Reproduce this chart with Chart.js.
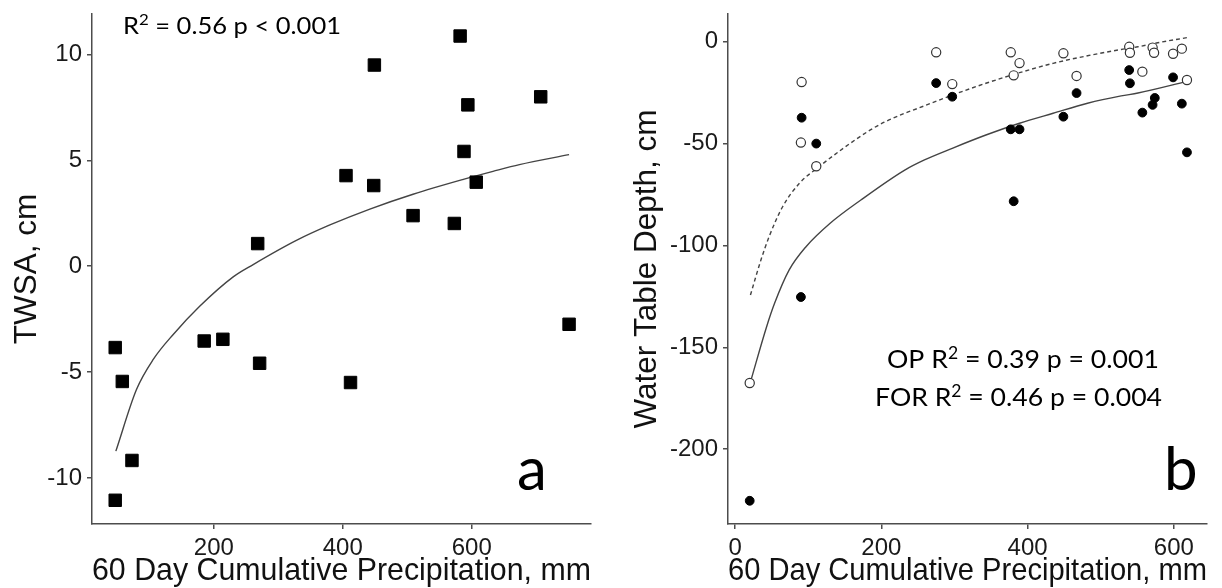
<!DOCTYPE html>
<html>
<head>
<meta charset="utf-8">
<script src="https://cdn.jsdelivr.net/npm/chart.js@4.4.1/dist/chart.umd.min.js"></script>
<style>
  html, body { margin: 0; padding: 0; background: #fff; }
  #wrap { position: relative; width: 1222px; height: 588px; }
  canvas { position: absolute; top: 0; }
  #chartA { left: 0; }
  #chartB { left: 611px; }
</style>
</head>
<body>
<div id="wrap">
  <canvas id="chartA" width="611" height="588"></canvas>
  <canvas id="chartB" width="611" height="588"></canvas>
</div>
<script>
// Panel a: TWSA against 60 day precipitation
const precipA = [582, 449, 707, 594, 588, 405, 448, 607, 509, 573, 268, 751, 47, 185, 214, 271, 58, 412, 73, 47];
const twsa = [10.87, 9.5, 8.0, 7.62, 5.42, 4.28, 3.81, 3.97, 2.39, 2.02, 1.07, -2.74, -3.84, -3.53, -3.45, -4.58, -5.44, -5.49, -9.17, -11.05];
// log fit
const fitAPrecip = [48, 80, 106, 137, 178, 230, 261, 328, 380, 442, 509, 587, 633, 674, 751];
const fitATwsa = [-8.73, -5.82, -4.40, -3.22, -1.89, -0.50, 0.08, 1.22, 1.95, 2.70, 3.40, 4.10, 4.48, 4.80, 5.27];

// Panel b: water table depth, filled = OP, open = FOR
const opPrecip = [20, 90, 91, 111, 275, 297, 377, 389, 381, 449, 467, 539, 540, 557, 571, 574, 599, 611, 618];
const opDepth = [-225.3, -125.3, -37.3, -50.0, -20.3, -27, -43, -43, -78.3, -36.8, -25.2, -13.9, -20.4, -34.8, -31, -27.6, -17.5, -30.4, -54.3];
const forPrecip = [20, 91, 90, 111, 275, 297, 377, 389, 381, 449, 467, 539, 540, 557, 571, 573, 599, 611, 618];
const forDepth = [-167.5, -19.8, -49.5, -61.1, -5.2, -20.8, -5.2, -10.5, -16.5, -5.7, -16.8, -2.5, -5.4, -14.7, -2.9, -5.4, -5.9, -3.4, -18.8];
const fitOpPrecip = [21, 43, 54, 74, 97, 130, 172, 232, 259, 297, 343, 389, 435, 482, 528, 551, 618];
const fitOpDepth = [-167, -140, -128.4, -112, -100.6, -89.1, -77.7, -63, -58, -52.3, -45.8, -40, -35.1, -30.2, -26.6, -25.2, -19.5];
const fitForPrecip = [21, 35, 46.5, 65, 88, 115, 148, 185, 204, 232, 250, 297, 343, 389, 435, 482, 528, 551, 578, 618];
const fitForDepth = [-124.3, -107.5, -95.7, -81, -69.5, -61.3, -52.3, -43.3, -39.5, -35.1, -32.7, -26.2, -20.4, -15.2, -10.6, -6.9, -3.8, -2.5, -0.5, 2.0];

// tick labels
const xTicksA = [200, 400, 600];
const yTicksA = [-10, -5, 0, 5, 10];
const xTicksB = [0, 200, 400, 600];
const yTicksB = [-200, -150, -100, -50, 0];

const FONT = 'Arial, "Liberation Sans", sans-serif';
const NOTE_FONT = 'Lato, "Open Sans", sans-serif';
const AXIS_GREY = '#4d4d4d';

function toPoints(xs, ys) {
  return xs.map((x, i) => ({ x: x, y: ys[i] }));
}

function makeScale(min, max, tickValues, titleText, titleSize, titlePadding, boxSize) {
  return {
    type: 'linear',
    min: min,
    max: max,
    afterBuildTicks: s => { s.ticks = tickValues.map(v => ({ value: v })); },
    afterFit: s => {
      if (s.isHorizontal()) s.height = boxSize; else s.width = boxSize;
      s.paddingLeft = 0; s.paddingRight = 0; s.paddingTop = 0; s.paddingBottom = 0;
    },
    grid: { display: true, drawOnChartArea: false, drawTicks: true, tickLength: 5, color: AXIS_GREY, lineWidth: 1.5 },
    border: { display: true, color: AXIS_GREY, width: 1.5 },
    ticks: { padding: 5, color: '#1a1a1a', font: { family: FONT, size: 24 }, callback: v => String(v) },
    title: { display: true, text: titleText, color: '#111', font: { family: FONT, size: titleSize, lineHeight: 1 }, padding: titlePadding }
  };
}

// notes: parts are [text, isSuperscript]
function drawNote(ctx, n) {
  ctx.save();
  ctx.fillStyle = '#000';
  ctx.textBaseline = 'alphabetic';
  const fontFor = sup => (sup ? n.size * 0.66 : n.size) + 'px ' + NOTE_FONT;
  let total = 0;
  n.parts.forEach(p => { ctx.font = fontFor(p[1]); total += ctx.measureText(p[0]).width; });
  const sx = n.width ? n.width / total : 1;
  ctx.translate(n.x, n.y);
  ctx.scale(sx, 1);
  let cx = 0;
  n.parts.forEach(p => {
    ctx.font = fontFor(p[1]);
    ctx.fillText(p[0], cx, p[1] ? -n.size * 0.36 : 0);
    cx += ctx.measureText(p[0]).width;
  });
  ctx.restore();
}

function notePlugin(notes) {
  return {
    id: 'notes',
    afterDraw(chart) {
      notes.forEach(n => drawNote(chart.ctx, n));
    }
  };
}

const common = {
  responsive: false,
  animation: false,
  events: [],
  plugins: { legend: { display: false }, tooltip: { enabled: false } }
};

new Chart(document.getElementById('chartA'), {
  type: 'scatter',
  data: {
    datasets: [{
      data: toPoints(precipA, twsa),
      pointStyle: 'rect',
      pointRadius: 8.8,
      backgroundColor: '#000',
      borderColor: '#000',
      borderWidth: 1
    }, {
      data: toPoints(fitAPrecip, fitATwsa),
      showLine: true,
      pointRadius: 0,
      borderColor: '#444',
      borderWidth: 1.4,
      cubicInterpolationMode: 'monotone'
    }]
  },
  options: Object.assign({}, common, {
    layout: { padding: { top: 14, right: 20, left: 0, bottom: 0 } },
    scales: {
      x: makeScale(11, 785, xTicksA, '60 Day Cumulative Precipitation, mm', 31.3, { top: 0, bottom: 1 }, 64),
      y: makeScale(-12.17, 11.91, yTicksA, 'TWSA, cm', 31.5, { top: 11.2, bottom: 0 }, 92)
    }
  }),
  plugins: [notePlugin([
    { parts: [['R', false], ['2', true], [' = 0.56 p < 0.001', false]], x: 123, y: 33.5, size: 24, width: 218 },
    { parts: [['a', false]], x: 517, y: 490, size: 60 }
  ])]
});

new Chart(document.getElementById('chartB'), {
  type: 'scatter',
  data: {
    datasets: [{
      data: toPoints(opPrecip, opDepth),
      pointRadius: 4.4,
      backgroundColor: '#000',
      borderColor: '#000',
      borderWidth: 1
    }, {
      data: toPoints(forPrecip, forDepth),
      pointRadius: 4.6,
      backgroundColor: '#fff',
      borderColor: '#333',
      borderWidth: 1.2
    }, {
      data: toPoints(fitOpPrecip, fitOpDepth),
      showLine: true,
      pointRadius: 0,
      borderColor: '#444',
      borderWidth: 1.4,
      cubicInterpolationMode: 'monotone'
    }, {
      data: toPoints(fitForPrecip, fitForDepth),
      showLine: true,
      pointRadius: 0,
      borderColor: '#444',
      borderWidth: 1.4,
      borderDash: [4, 3],
      cubicInterpolationMode: 'monotone'
    }]
  },
  options: Object.assign({}, common, {
    layout: { padding: { top: 14, right: 15, left: 0, bottom: 0 } },
    scales: {
      x: makeScale(-9.7, 645.4, xTicksB, '60 Day Cumulative Precipitation, mm', 31.3, { top: 0, bottom: 1 }, 64),
      y: makeScale(-236.7, 13.6, yTicksB, 'Water Table Depth, cm', 31.5, { top: 20.2, bottom: 0 }, 117)
    }
  }),
  plugins: [notePlugin([
    { parts: [['OP R', false], ['2', true], [' = 0.39 p = 0.001', false]], x: 276, y: 368, size: 25, width: 272 },
    { parts: [['FOR R', false], ['2', true], [' = 0.46 p = 0.004', false]], x: 264, y: 406, size: 25, width: 287 },
    { parts: [['b', false]], x: 553, y: 490, size: 60 }
  ])]
});
</script>
</body>
</html>
